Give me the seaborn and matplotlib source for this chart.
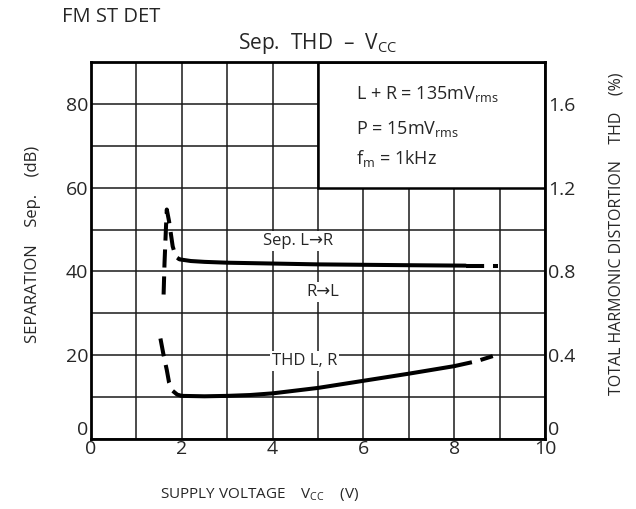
import numpy as np
import seaborn as sns
import matplotlib.pyplot as plt
from matplotlib.patches import Rectangle

# Separation (dB) vs supply voltage (V)
sep_dash1_v = [1.60, 1.62, 1.65, 1.67, 1.72, 1.80, 1.87, 1.95]
sep_dash1_db = [34.5, 42.0, 50.0, 54.8, 52.0, 46.0, 43.5, 42.9]
sep_solid_v = [1.95, 2.2, 2.5, 3.0, 4.0, 5.0, 6.0, 7.0, 8.25]
sep_solid_db = [42.9, 42.5, 42.3, 42.1, 41.9, 41.7, 41.6, 41.5, 41.4]
sep_dash2_v = [8.25, 8.96]
sep_dash2_db = [41.4, 41.4]

# THD (%) vs supply voltage (V)
thd_dash1_v = [1.53, 1.60, 1.67, 1.72, 1.80, 1.90, 2.00]
thd_dash1_pct = [0.48, 0.40, 0.33, 0.27, 0.23, 0.212, 0.206]
thd_solid_v = [2.0, 2.5, 3.0, 3.5, 4.0, 5.0, 6.0, 7.0, 8.0]
thd_solid_pct = [0.206, 0.204, 0.206, 0.21, 0.218, 0.244, 0.278, 0.312, 0.348]
thd_dash2_v = [8.0, 8.5, 8.85]
thd_dash2_pct = [0.348, 0.372, 0.396]

sns.set_theme(style='white')
plt.rcParams['font.family'] = ['Open Sans', 'DejaVu Sans']
plt.rcParams['mathtext.fontset'] = 'custom'
plt.rcParams['mathtext.rm'] = 'Open Sans'
plt.rcParams['mathtext.it'] = 'Open Sans'

fig = plt.figure(figsize=(6.36, 5.09), dpi=100)
ax = fig.add_axes([0.143, 0.1375, 0.714, 0.7405])

ax.set_xlim(0, 10)
ax.set_ylim(0, 90)
ax.set_xticks(np.arange(0, 11, 2))
ax.set_xticks(np.arange(0, 11, 1), minor=True)
ax.set_yticks(np.arange(0, 81, 20))
ax.set_yticks(np.arange(0, 91, 10), minor=True)
ax.grid(which='both', color='#1a1a1a', lw=1.1)
ax.set_axisbelow(True)
ax.tick_params(which='both', length=0, labelsize=14)
ax.tick_params(axis='x', pad=1)
ax.tick_params(axis='y', pad=2)
ax.yaxis.get_major_ticks()[0].label1.set_verticalalignment('bottom')
for s in ax.spines.values():
    s.set_color('black')
    s.set_linewidth(2)

# blank condition box
ax.add_patch(Rectangle((5, 60), 5, 30, facecolor='white', edgecolor='black',
                       lw=1.8, zorder=1))

dash = (0, (4.5, 2.2))
kw = dict(color='black', lw=2.9, sort=False, estimator=None, zorder=3)
sns.lineplot(x=sep_dash1_v, y=sep_dash1_db, ax=ax, linestyle=dash, **kw)
sns.lineplot(x=sep_solid_v, y=sep_solid_db, ax=ax, **kw)
sns.lineplot(x=sep_dash2_v, y=sep_dash2_db, ax=ax, linestyle=dash, **kw)

ax.set_xlabel(r'SUPPLY VOLTAGE    V$_{\mathrm{CC}}$    (V)', fontsize=11)
ax.xaxis.set_label_coords(0.372, -0.125)
ax.set_ylabel('SEPARATION    Sep.    (dB)', fontsize=12)
ax.yaxis.set_label_coords(-0.11, 0.515)

box = dict(facecolor='white', edgecolor='none', pad=1.5)
ax.text(4.56, 47.4, 'Sep. L\u2192R', fontsize=12, ha='center', va='center', bbox=box, zorder=2)
ax.text(5.1, 35.2, 'R\u2192L', fontsize=12, ha='center', va='center', bbox=box, zorder=2)
ax.text(4.7, 18.7, 'THD L, R', fontsize=12, ha='center', va='center', bbox=box, zorder=2)

ax.text(5.84, 82.4, r'L + R = 135mV$_{\mathrm{rms}}$', fontsize=13, va='center', zorder=2)
ax.text(5.84, 74.0, r'P = 15mV$_{\mathrm{rms}}$', fontsize=13, va='center', zorder=2)
ax.text(5.84, 67.0, r'f$_{\mathrm{m}}$ = 1kHz', fontsize=13, va='center', zorder=2)

ax2 = ax.twinx()
ax2.set_ylim(0, 1.8)
ax2.set_yticks([0, 0.4, 0.8, 1.2, 1.6])
ax2.set_yticklabels(['0', '0.4', '0.8', '1.2', '1.6'])
ax2.tick_params(length=0, labelsize=14, pad=2)
ax2.yaxis.get_major_ticks()[0].label2.set_verticalalignment('bottom')
ax2.grid(False)
for s in ax2.spines.values():
    s.set_visible(False)
sns.lineplot(x=thd_dash1_v, y=thd_dash1_pct, ax=ax2, linestyle=dash, **kw)
sns.lineplot(x=thd_solid_v, y=thd_solid_pct, ax=ax2, **kw)
sns.lineplot(x=thd_dash2_v, y=thd_dash2_pct, ax=ax2, linestyle=dash, **kw)
ax2.set_ylabel('TOTAL HARMONIC DISTORTION    THD    (%)', fontsize=11.5)
ax2.yaxis.set_label_coords(1.14, 0.545)

fig.text(0.0975, 0.967, 'FM ST DET', fontsize=14.5, va='center')
fig.text(0.5, 0.915, 'Sep.  THD  \u2013  V$_{\\mathrm{CC}}$',
         fontsize=15, ha='center', va='center')

fig.savefig('out.png', dpi=100)
